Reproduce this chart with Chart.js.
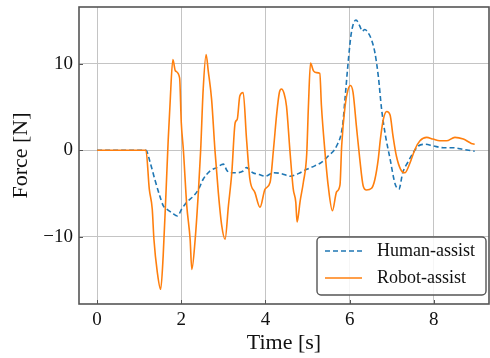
<!DOCTYPE html>
<html>
<head>
<meta charset="utf-8">
<script src="https://cdn.jsdelivr.net/npm/chart.js@4"></script>
<style>
  html, body { margin: 0; padding: 0; background: #fff; }
  #wrap { width: 490px; height: 358px; }
</style>
</head>
<body>
<div id="wrap"><canvas id="forceChart" width="490" height="358"></canvas></div>
<script>
// =========================================
// Data
// =========================================

const seriesLabels = ["Human-assist", "Robot-assist"];

const humanTime = [
    0, 1.16, 1.26, 1.37, 1.49, 1.57, 1.65, 1.77, 1.91, 2.01,
    2.13, 2.29, 2.41, 2.52, 2.68, 2.84, 3.0, 3.08, 3.15, 3.31,
    3.47, 3.55, 3.7, 3.85, 3.99, 4.19, 4.38, 4.58, 4.78, 4.98,
    5.17, 5.33, 5.49, 5.69, 5.83, 5.89, 5.97, 6.04, 6.15, 6.24,
    6.30, 6.36, 6.44, 6.52, 6.60, 6.68, 6.76, 6.84, 6.96, 7.08,
    7.17, 7.26, 7.38, 7.51, 7.63, 7.79, 7.99, 8.23, 8.47, 8.70, 8.97
];
const humanForce = [
    0, 0, -1.4, -3.35, -5.3, -6.4, -6.8, -7.2, -7.6, -6.8,
    -6.0, -5.3, -4.5, -3.35, -2.4, -2.0, -1.6, -2.3, -2.6, -2.6,
    -2.4, -2.0, -2.6, -2.8, -3.0, -2.6, -2.7, -3.0, -2.7, -2.2,
    -1.8, -1.4, -0.66, 0.5, 2.8, 6.0, 10.5, 13.6, 15.1, 14.4,
    13.8, 14.0, 13.6, 12.8, 11.3, 8.6, 4.7, 2.0, -1.0, -3.9,
    -4.5, -2.6, -1.4, -0.27, 0.5, 0.7, 0.5, 0.3, 0.3, 0.1, -0.1
];

const robotTime = [
    0, 1.16, 1.24, 1.31, 1.35, 1.43, 1.51, 1.57, 1.64, 1.69,
    1.73, 1.80, 1.86, 1.96, 2.0, 2.05, 2.13, 2.21, 2.25, 2.33,
    2.41, 2.46, 2.52, 2.59, 2.64, 2.72, 2.80, 2.88, 2.96, 3.04,
    3.12, 3.20, 3.28, 3.33, 3.39, 3.47, 3.55, 3.63, 3.75, 3.87,
    3.99, 4.11, 4.19, 4.27, 4.33, 4.38, 4.44, 4.50, 4.58, 4.66,
    4.72, 4.75, 4.78, 4.82, 4.90, 4.98, 5.02, 5.07, 5.14, 5.21,
    5.29, 5.33, 5.41, 5.49, 5.59, 5.69, 5.77, 5.81, 5.89, 5.96,
    6.02, 6.08, 6.16, 6.24, 6.32, 6.40, 6.52, 6.60, 6.68, 6.73,
    6.80, 6.88, 6.96, 7.03, 7.11, 7.21, 7.31, 7.43, 7.55, 7.67,
    7.83, 7.98, 8.14, 8.30, 8.50, 8.70, 8.89, 8.97
];
const robotForce = [
    0, 0, -4.5, -6.8, -10.3, -14.1, -16.1, -12.2, -4.5, 1.3,
    5.1, 10.5, 9.2, 8.4, 3.2, 0, -6.4, -10.3, -13.8, -10.3,
    -4.5, 0, 7.05, 11.1, 9.2, 5.9, 0, -4.9, -8.7, -10.3,
    -6.4, -2.6, 3.2, 3.6, 6.3, 6.7, 1.3, -3.35, -4.9, -6.6,
    -4.5, -3.7, 0.1, 4.4, 6.7, 7.1, 6.6, 5.1, 0, -4.5,
    -6.0, -8.3, -7.6, -6.0, -3.7, -0.4, 5.1, 10.1, 9.2, 9.0,
    8.9, 5.1, 0, -4.1, -7.0, -4.8, -4.0, 0.5, 5.1, 7.0,
    7.5, 6.7, 2.8, -1.0, -4.1, -4.6, -4.4, -3.35, -1.0, 1.3,
    3.6, 4.5, 4.1, 1.65, -0.66, -2.2, -2.6, -1.5, 0.1, 1.1,
    1.5, 1.3, 1.1, 1.1, 1.5, 1.3, 0.8, 0.7
];

const xTicks = [0, 2, 4, 6, 8];
const yTicks = [-10, 0, 10];


// =========================================
// Helpers
// =========================================

const frameColor = "#555555";
const serif = "'Liberation Serif', 'DejaVu Serif', serif";

function toPoints(times, forces) {
    return times.map((t, i) => ({ x: t, y: forces[i] }));
}

// frame, inward ticks and the legend box inside the plot
const framePlugin = {

    id: "frameAndLegend",

    afterDraw(chart) {

        const ctx = chart.ctx;
        const area = chart.chartArea;
        const xs = chart.scales.x;
        const ys = chart.scales.y;

        ctx.save();

        // inward ticks
        ctx.strokeStyle = frameColor;
        ctx.lineWidth = 1;
        ctx.beginPath();
        xTicks.forEach(v => {
            const px = Math.round(xs.getPixelForValue(v)) + 0.5;
            ctx.moveTo(px, area.bottom);
            ctx.lineTo(px, area.bottom - 4);
        });
        yTicks.forEach(v => {
            const py = Math.round(ys.getPixelForValue(v)) + 0.5;
            ctx.moveTo(area.left, py);
            ctx.lineTo(area.left + 4, py);
        });
        ctx.stroke();

        // frame
        ctx.lineWidth = 1.6;
        ctx.strokeRect(area.left, area.top,
            area.right - area.left, area.bottom - area.top);

        // legend
        const bx = 317, by = 237, bw = 169, bh = 58;
        ctx.beginPath();
        ctx.roundRect(bx, by, bw, bh, 4);
        ctx.fillStyle = "rgba(255,255,255,0.85)";
        ctx.fill();
        ctx.lineWidth = 1.4;
        ctx.strokeStyle = frameColor;
        ctx.stroke();

        chart.data.datasets.forEach((ds, i) => {
            const ly = by + 14 + i * 27;
            ctx.beginPath();
            ctx.setLineDash(ds.borderDash || []);
            ctx.strokeStyle = ds.borderColor;
            ctx.lineWidth = ds.borderWidth;
            ctx.moveTo(bx + 8, ly);
            ctx.lineTo(bx + 45, ly);
            ctx.stroke();
            ctx.setLineDash([]);
            ctx.fillStyle = "#111";
            ctx.font = "18px " + serif;
            ctx.textBaseline = "middle";
            ctx.textAlign = "left";
            ctx.fillText(ds.label, bx + 60, ly);
        });

        ctx.restore();
    }
};


// =========================================
// Force Chart
// =========================================

const forceCanvas =
    document.getElementById("forceChart");

new Chart(forceCanvas, {

    type: "line",

    data: {

        datasets: [{

            label: seriesLabels[0],
            data: toPoints(humanTime, humanForce),
            borderColor: "#1f77b4",
            borderWidth: 1.6,
            borderDash: [5, 3],
            pointRadius: 0,
            cubicInterpolationMode: "monotone",
            order: 1

        }, {

            label: seriesLabels[1],
            data: toPoints(robotTime, robotForce),
            borderColor: "#ff7f0e",
            borderWidth: 1.6,
            pointRadius: 0,
            cubicInterpolationMode: "monotone",
            order: 0

        }]
    },

    options: {

        responsive: false,
        animation: false,
        layout: {
            padding: 0
        },

        plugins: {
            legend: { display: false },
            tooltip: { enabled: false }
        },

        scales: {

            x: {
                type: "linear",
                min: -0.43,
                max: 9.31,
                afterBuildTicks: scale => {
                    scale.ticks = xTicks.map(v => ({ value: v }));
                },
                afterFit: scale => {
                    scale.height = 54;
                    scale.paddingLeft = 0;
                    scale.paddingRight = 1;
                },
                grid: {
                    color: "#c4c4c4",
                    lineWidth: 1,
                    drawTicks: false
                },
                border: { display: false },
                ticks: {
                    padding: 5,
                    color: "#111",
                    font: { family: serif, size: 19 }
                },
                title: {
                    display: true,
                    text: "Time [s]",
                    color: "#111",
                    padding: { bottom: 2 },
                    font: { family: serif, size: 22 }
                }
            },

            y: {
                min: -17.8,
                max: 16.6,
                afterBuildTicks: scale => {
                    scale.ticks = yTicks.map(v => ({ value: v }));
                },
                afterFit: scale => {
                    scale.width = 79;
                    scale.paddingTop = 7;
                    scale.paddingBottom = 0;
                },
                grid: {
                    color: "#c4c4c4",
                    lineWidth: 1,
                    drawTicks: false
                },
                border: { display: false },
                ticks: {
                    padding: 6,
                    color: "#111",
                    font: { family: serif, size: 19 },
                    callback: v => (v < 0 ? "\u2212" + Math.abs(v) : String(v))
                },
                title: {
                    display: true,
                    text: "Force [N]",
                    color: "#111",
                    padding: { top: 8 },
                    font: { family: serif, size: 22 }
                }
            }
        }
    },

    plugins: [framePlugin]
});
</script>
</body>
</html>
